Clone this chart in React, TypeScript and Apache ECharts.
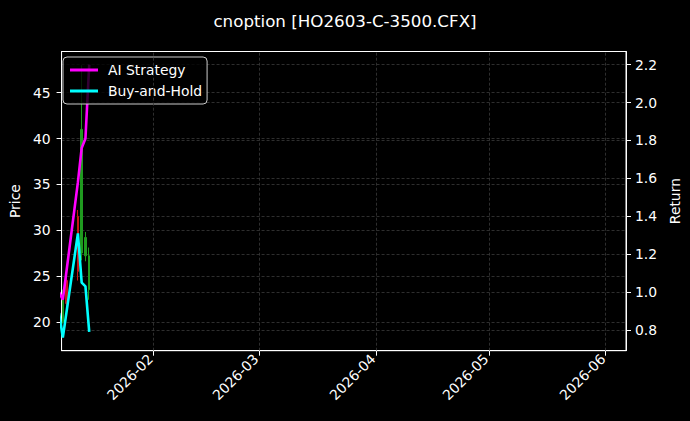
import { useEffect, useRef } from "react";
import * as echarts from "echarts";

// candles (left axis, Price)
const candleDates = ["2026-01-08", "2026-01-09", "2026-01-12", "2026-01-13", "2026-01-14", "2026-01-15"];
const openPrices = [20.0, 24.5, 31.5, 27.5, 27.2, 23.5];
const closePrices = [23.0, 22.0, 25.5, 41.0, 29.2, 27.2];
const lowPrices = [19.8, 21.5, 24.5, 26.7, 26.6, 22.4];
const highPrices = [23.5, 25.0, 32.2, 48.0, 29.8, 28.1];

// equity curves (right axis, Return)
const lineDates = ["2026-01-07", "2026-01-08", "2026-01-12", "2026-01-13", "2026-01-14", "2026-01-15"];
const aiStrategy = [1.0, 0.96, 1.58, 1.76, 1.81, 2.2];
const buyAndHold = [0.89, 0.76, 1.31, 1.05, 1.03, 0.79];

const monthTicks = ["2026-02-01", "2026-03-01", "2026-04-01", "2026-05-01", "2026-06-01"];
const priceTicks = [20, 25, 30, 35, 40, 45];
const returnTicks = [0.8, 1.0, 1.2, 1.4, 1.6, 1.8, 2.0, 2.2];

const FONT = '"DejaVu Sans", sans-serif';
const HOUR = 3600 * 1000;
const ts = (d: string) => new Date(d + "T00:00:00Z").getTime();

export default function App() {
  const chartRef = useRef<HTMLDivElement>(null);

  useEffect(() => {
    if (!chartRef.current) return;
    document.body.style.margin = "0";
    document.body.style.background = "#000";
    const chart = echarts.init(chartRef.current, null, { renderer: "svg" });

    const candleData = candleDates.map((d, i) => [ts(d), openPrices[i], closePrices[i], lowPrices[i], highPrices[i]]);
    const monthValues = monthTicks.map(ts);
    const gridLine = { color: "#3a3a3a", width: 0.8, type: [3, 2] as number[] };

    const option = {
      animation: false,
      backgroundColor: "#000",
      title: {
        text: "cnoption [HO2603-C-3500.CFX]",
        left: "center",
        top: 7,
        textStyle: { color: "#fff", fontSize: 16.7, fontWeight: "normal", fontFamily: FONT },
      },
      legend: {
        data: ["AI Strategy", "Buy-and-Hold"],
        orient: "vertical",
        left: 63,
        top: 57,
        padding: [6, 5, 6, 7],
        itemGap: 7,
        icon: "rect",
        itemWidth: 28,
        itemHeight: 3,
        backgroundColor: "rgba(0,0,0,0.8)",
        borderColor: "#cccccc",
        borderWidth: 1,
        borderRadius: 4,
        textStyle: { color: "#fff", fontSize: 13.9, fontFamily: FONT, padding: [0, 0, 0, 5] },
      },
      grid: {
        left: 57.7,
        right: 60.7,
        top: 51.5,
        bottom: 70.3,
        show: true,
        borderColor: "#fff",
        borderWidth: 1,
      },
      xAxis: {
        type: "value",
        min: ts("2026-01-07") + 16 * HOUR,
        max: ts("2026-06-06") + 9 * HOUR,
        axisLine: { show: true, lineStyle: { color: "#fff", width: 1 } },
        axisTick: { show: true, length: 5, lineStyle: { color: "#fff" }, customValues: monthValues },
        axisLabel: {
          customValues: monthValues,
          rotate: 45,
          margin: 3,
          padding: [0, 4, 0, 0],
          color: "#fff",
          fontSize: 13.9,
          fontFamily: FONT,
          formatter: (v: number) => {
            const d = new Date(v);
            return `${d.getUTCFullYear()}-${String(d.getUTCMonth() + 1).padStart(2, "0")}`;
          },
        },
        splitLine: { show: false },
      },
      yAxis: [
        {
          type: "value",
          position: "left",
          min: 16.84,
          max: 49.5,
          splitNumber: 5,
          name: "Price",
          nameLocation: "middle",
          nameGap: 32,
          nameTextStyle: { color: "#fff", fontSize: 13.9, fontFamily: FONT },
          axisLine: { show: true, lineStyle: { color: "#fff" } },
          axisTick: { show: true, length: 5, lineStyle: { color: "#fff" }, customValues: priceTicks },
          axisLabel: {
            customValues: priceTicks,
            color: "#fff",
            fontSize: 13.9,
            fontFamily: FONT,
            margin: 11,
          },
          splitLine: { show: true, lineStyle: gridLine },
        },
        {
          type: "value",
          position: "right",
          min: 0.691,
          max: 2.269,
          splitNumber: 8,
          name: "Return",
          nameLocation: "middle",
          nameGap: 31,
          nameTextStyle: { color: "#fff", fontSize: 13.9, fontFamily: FONT },
          axisLine: { show: true, lineStyle: { color: "#fff" } },
          axisTick: { show: true, length: 5, lineStyle: { color: "#fff" }, customValues: returnTicks },
          axisLabel: {
            customValues: returnTicks,
            color: "#fff",
            fontSize: 13.9,
            fontFamily: FONT,
            margin: 9,
            formatter: (v: number) => v.toFixed(1),
          },
          splitLine: { show: true, lineStyle: gridLine },
        },
      ],
      series: [
        {
          name: "Price",
          type: "candlestick",
          yAxisIndex: 0,
          barWidth: 2,
          data: candleData,
          itemStyle: {
            color: "#1f9a1f",
            color0: "#c81414",
            borderColor: "#1f9a1f",
            borderColor0: "#c81414",
            borderWidth: 1,
          },
          markLine: {
            silent: true,
            symbol: ["none", "none"],
            label: { show: false },
            lineStyle: gridLine,
            data: monthValues.map((v) => ({ xAxis: v })),
          },
        },
        {
          name: "AI Strategy",
          type: "line",
          yAxisIndex: 1,
          showSymbol: false,
          data: lineDates.map((d, i) => [ts(d), aiStrategy[i]]),
          lineStyle: { color: "#ff00ff", width: 2.6 },
          itemStyle: { color: "#ff00ff" },
        },
        {
          name: "Buy-and-Hold",
          type: "line",
          yAxisIndex: 1,
          showSymbol: false,
          data: lineDates.map((d, i) => [ts(d), buyAndHold[i]]),
          lineStyle: { color: "#00ffff", width: 2.6 },
          itemStyle: { color: "#00ffff" },
        },
      ],
    };

    chart.setOption(option);
    return () => chart.dispose();
  }, []);

  return <div ref={chartRef} style={{ width: 690, height: 421 }} />;
}
